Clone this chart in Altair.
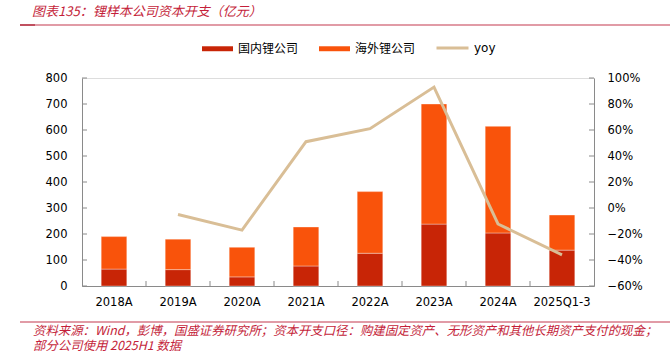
import altair as alt
import pandas as pd

categories = ["2018A", "2019A", "2020A", "2021A", "2022A", "2023A", "2024A", "2025Q1-3"]
domestic = [65, 63, 35, 77, 126, 238, 204, 138]
total = [190, 180, 149, 227, 363, 700, 614, 273]
overseas = [t - d for t, d in zip(total, domestic)]
yoy_cats = ["2019A", "2020A", "2021A", "2022A", "2023A", "2024A", "2025Q1-3"]
yoy_vals = [-0.05, -0.17, 0.51, 0.61, 0.93, -0.123, -0.36]
bar_series = ["国内锂公司", "海外锂公司"]
bar_colors = ["#C82506", "#F9530B"]
line_series = ["yoy"]
line_colors = ["#D9BE96"]
left_ticks = [0, 100, 200, 300, 400, 500, 600, 700, 800]
right_ticks = [-0.6, -0.4, -0.2, 0.0, 0.2, 0.4, 0.6, 0.8, 1.0]
title_text = "图表135：锂样本公司资本开支（亿元）"
footer1 = "资料来源：Wind，彭博，国盛证券研究所；资本开支口径：购建固定资产、无形资产和其他长期资产支付的现金；"
footer2 = "部分公司使用 2025H1 数据"

W, H = 512, 208
GREY = "#8A8A8A"
RED = "#C41E3A"
NUM_FONT = "DejaVu Sans"
CJK_FONT = "Noto Sans CJK SC"

rows = []
for c, d, o in zip(categories, domestic, overseas):
    rows.append({"cat": c, "series": bar_series[0], "value": d, "ord": 0})
    rows.append({"cat": c, "series": bar_series[1], "value": o, "ord": 1})
bar_df = pd.DataFrame(rows)
yoy_df = pd.DataFrame({"cat": yoy_cats, "yoy": yoy_vals, "series": "yoy"})
lt_df = pd.DataFrame({"value": left_ticks})
rt_df = pd.DataFrame({"yoy": right_ticks})
xt_df = pd.DataFrame({"cat": categories[1:]})

xscale = alt.Scale(domain=categories, paddingInner=0.6, paddingOuter=0.3)
xaxis = alt.Axis(title=None, ticks=False, labelPadding=10, domainColor=GREY,
                 labelAngle=0, labelFont=NUM_FONT, labelFontSize=11.5, labelColor="#000")
lscale = alt.Scale(domain=[0, 800], nice=False)
laxis = alt.Axis(title=None, ticks=False, values=left_ticks, labelPadding=15,
                 domainColor=GREY, labelFont=NUM_FONT, labelFontSize=11.5, labelColor="#000",
                 grid=False, orient="left")
rscale = alt.Scale(domain=[-0.6, 1.0], nice=False)
raxis = alt.Axis(title=None, ticks=False, values=right_ticks, format=".0%", labelPadding=13,
                 domainColor=GREY, labelFont=NUM_FONT, labelFontSize=11.5, labelColor="#000",
                 grid=False, orient="right")
bar_legend = alt.Legend(
    title=None, orient="none", direction="horizontal", legendX=120, legendY=-45,
    labelFont=CJK_FONT, labelFontSize=12, labelColor="#000", labelOffset=5,
    columnPadding=20, symbolSize=961, symbolStrokeWidth=0,
    symbolType="M-1,-0.16L1,-0.16L1,0.16L-1,0.16Z",
)
line_legend = alt.Legend(
    title=None, orient="none", direction="horizontal", legendX=353, legendY=-47.5,
    labelFont=NUM_FONT, labelFontSize=12, labelColor="#000", labelOffset=4,
    symbolSize=1024, symbolStrokeWidth=3, symbolType="stroke",
)

bars = alt.Chart(bar_df).mark_bar(stroke="#ffffff", strokeOpacity=0.35, strokeWidth=1).encode(
    x=alt.X("cat:N", sort=categories, scale=xscale, axis=xaxis),
    y=alt.Y("value:Q", stack="zero", scale=lscale, axis=laxis),
    color=alt.Color("series:N", scale=alt.Scale(domain=bar_series, range=bar_colors),
                    legend=bar_legend),
    order=alt.Order("ord:Q"),
)
lticks = alt.Chart(lt_df).mark_rule(color=GREY).encode(
    y=alt.Y("value:Q", scale=lscale, axis=laxis),
    x=alt.value(0), x2=alt.value(5),
)
xticks = alt.Chart(xt_df).mark_rule(color=GREY, xOffset=-W / len(categories) / 2).encode(
    x=alt.X("cat:N", sort=categories, scale=xscale, axis=xaxis),
    y=alt.value(H - 5), y2=alt.value(H),
)
left = alt.layer(bars, lticks, xticks)

line = alt.Chart(yoy_df).mark_line(strokeWidth=3).encode(
    x=alt.X("cat:N", sort=categories, scale=xscale, axis=xaxis),
    y=alt.Y("yoy:Q", scale=rscale, axis=raxis),
    color=alt.Color("series:N", scale=alt.Scale(domain=line_series, range=line_colors),
                    legend=line_legend),
)
rticks = alt.Chart(rt_df).mark_rule(color=GREY).encode(
    y=alt.Y("yoy:Q", scale=rscale, axis=raxis),
    x=alt.value(W - 5), x2=alt.value(W),
)
right = alt.layer(line, rticks)

dummy = pd.DataFrame({"a": [0]})
title_mark = alt.Chart(pd.DataFrame({"t": [title_text]})).mark_text(
    align="left", baseline="middle", font=CJK_FONT, fontSize=13, fontStyle="italic", color=RED
).encode(text="t:N", x=alt.value(-50), y=alt.value(-66.5))
tline = alt.Chart(dummy).mark_rule(color="#D77A88", strokeWidth=1.5).encode(
    x=alt.value(-62), x2=alt.value(588), y=alt.value(-53))
tline2 = alt.Chart(dummy).mark_rule(color="#C0505F", strokeWidth=2).encode(
    x=alt.value(-62), x2=alt.value(-47), y=alt.value(-53))
fline = alt.Chart(dummy).mark_rule(color="#D77A88", strokeWidth=1.5).encode(
    x=alt.value(-62), x2=alt.value(588), y=alt.value(244))
f1 = alt.Chart(pd.DataFrame({"t": [footer1]})).mark_text(
    align="left", baseline="middle", font=CJK_FONT, fontSize=12.4, fontStyle="italic", color=RED
).encode(text="t:N", x=alt.value(-49), y=alt.value(252.5))
f2 = alt.Chart(pd.DataFrame({"t": [footer2]})).mark_text(
    align="left", baseline="middle", font=CJK_FONT, fontSize=12.4, fontStyle="italic", color=RED
).encode(text="t:N", x=alt.value(-49), y=alt.value(268))

chart = alt.layer(left, right, title_mark, tline, tline2, fline, f1, f2).resolve_scale(
    y="independent", color="independent"
).properties(
    width=W, height=H,
    autosize=alt.AutoSizeParams(type="none"),
    padding={"left": 82, "top": 78, "right": 76, "bottom": 67},
).configure_view(stroke=None).configure(background="white")

chart.save("out.html", embed_options={"renderer": "svg", "actions": False})
